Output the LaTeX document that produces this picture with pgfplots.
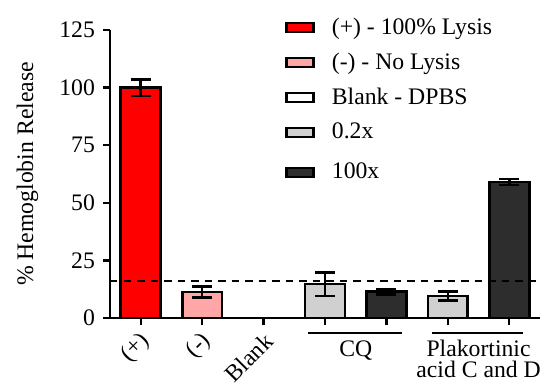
\documentclass[border=0pt]{standalone}
\usepackage{pgfplots}
\pgfplotsset{compat=1.18}
\usepackage{fontspec}
\setmainfont{Liberation Serif}
\definecolor{posred}{RGB}{255,0,0}
\definecolor{negpink}{RGB}{255,166,166}
\definecolor{lgray}{RGB}{208,208,208}
\definecolor{dgray}{RGB}{45,45,45}
\newcommand{\bigfont}{\fontsize{23.7}{27}\selectfont}
\pgfplotsset{
  barstyle/.style={ybar, bar width=0.65, bar shift=0pt, draw=black, line width=2.7pt},
  errstyle/.style={error bars/y dir=both, error bars/y explicit,
    error bars/error bar style={line width=2.7pt, black},
    error bars/error mark options={rotate=90, mark size=10pt, line width=2.7pt, black}},
  tallimg/.style={legend image code/.code={\draw[##1, line width=2.2pt] (0pt,-4.5pt) rectangle (27pt,4.5pt); \path (42pt,0pt); \path (0pt,16pt);}},
}
\begin{document}
\bigfont
\begin{tikzpicture}
\begin{axis}[
  scale only axis, width=430pt, height=288pt,
  xmin=-0.5, xmax=6.5, ymin=0, ymax=125,
  axis x line*=bottom, axis y line*=left,
  axis line style={line width=2.4pt, -},
  ytick={0,25,50,75,100,125},
  xtick={0,1,2,3,4,5,6},
  xticklabels={(+),(-),Blank,,,,},
  tick style={line width=2.4pt, black},
  tick align=outside,
  major tick length=7pt,
  x tick label style={xshift=11pt, yshift=-7pt, rotate=45, anchor=east, font=\bigfont},
  y tick label style={font=\bigfont},
  /pgf/number format/assume math mode=true,
  ylabel={\% Hemoglobin Release},
  ylabel style={font=\bigfont},
  ylabel shift=5pt,
  clip=false,
  legend style={at={(0.407,1.05)}, anchor=north west, draw=none, fill=none,
    font=\bigfont, row sep=11pt, inner sep=0pt},
  legend cell align=left,
  legend image code/.code={\draw[#1, line width=2.2pt] (0pt,-4.5pt) rectangle (27pt,4.5pt); \path (42pt,0pt);},
]
\addplot[barstyle, fill=posred, errstyle] coordinates {(0,100) +- (0,3.6)};
\addlegendentry{(+) - 100\% Lysis}
\addplot[barstyle, fill=negpink, errstyle] coordinates {(1,11.3) +- (0,2.3)};
\addlegendentry{(-) - No Lysis}
\addplot[barstyle, fill=white] coordinates {(2,0)};
\addlegendentry{Blank - DPBS}
\addplot[barstyle, fill=lgray, errstyle] coordinates {(3,14.7) +- (0,5.2) (5,9.5) +- (0,2.0)};
\addlegendentry{0.2x}
\addplot[barstyle, fill=dgray, errstyle, tallimg]
  coordinates {(4,11.4) +- (0,1.2) (6,59) +- (0,1.3)};
\addlegendentry{100x}
\addplot[forget plot, black, line width=2.6pt, dash pattern=on 7.5pt off 6pt] coordinates {(-0.5,16) (6.5,16)};
\draw[line width=2.4pt] (axis cs:2.72,-6.5) -- (axis cs:4.26,-6.5);
\draw[line width=2.4pt] (axis cs:4.74,-6.5) -- (axis cs:6.22,-6.5);
\node[inner sep=0pt] at (axis cs:3.5,-14) {CQ};
\node[inner sep=0pt, align=center, anchor=north, font=\fontsize{23.7}{21}\selectfont] at (axis cs:5.5,-9.5) {Plakortinic\\acid C and D};
\end{axis}
\pgfresetboundingbox
\path[use as bounding box] (current axis.south west) ++(-110pt,-65pt) rectangle ++(545pt,383pt);
\end{tikzpicture}
\end{document}
